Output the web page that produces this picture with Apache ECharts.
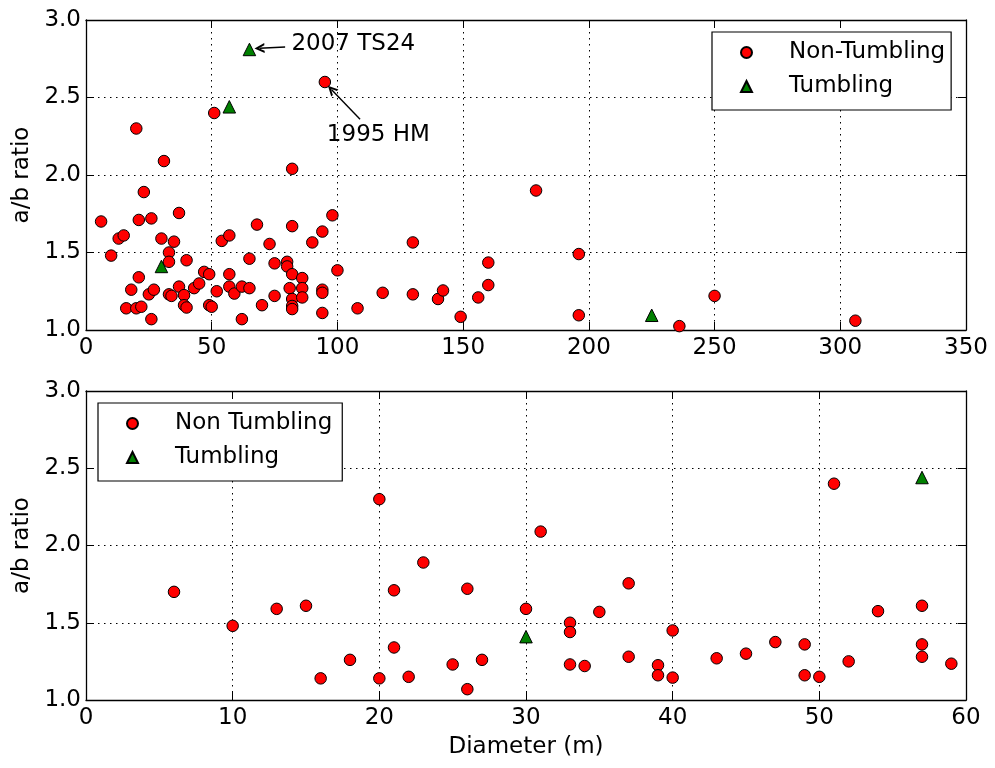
<!DOCTYPE html>
<html><head><meta charset="utf-8">
<script src="https://cdn.jsdelivr.net/npm/echarts@6/dist/echarts.min.js"></script>
<style>html,body{margin:0;padding:0;background:#fff}#c{width:995px;height:768px}</style>
</head><body><div id="c"></div>
<script>
// Non-tumbling, diameter < 60 m (shown in both panels)
const ntSmallD = [6,10,13,15,16,18,20,20,21,21,22,23,25,26,26,27,30,31,33,33,33,34,35,37,37,39,39,40,40,43,45,47,49,49,50,51,52,54,57,57,57,59];
const ntSmallR = [1.70,1.48,1.59,1.61,1.14,1.26,2.30,1.14,1.71,1.34,1.15,1.89,1.23,1.72,1.07,1.26,1.59,2.09,1.50,1.44,1.23,1.22,1.57,1.755,1.28,1.225,1.16,1.45,1.145,1.27,1.30,1.375,1.36,1.16,1.15,2.40,1.25,1.575,1.61,1.36,1.28,1.235];
// Non-tumbling, diameter >= 60 m (top panel only)
const ntLargeD = [62,62,65,65,68,70,73,75,75,80,80,81,82,82,82,82,82,82,86,86,86,90,94,94,94,94,95,98,100,108,118,130,130,140,142,149,156,160,160,179,196,196,236,250,306];
const ntLargeR = [1.07,1.28,1.27,1.46,1.68,1.16,1.555,1.43,1.22,1.44,1.41,1.27,2.04,1.67,1.36,1.20,1.155,1.135,1.335,1.27,1.21,1.565,1.635,1.26,1.24,1.11,2.60,1.74,1.385,1.14,1.24,1.565,1.23,1.20,1.255,1.085,1.21,1.435,1.29,1.90,1.49,1.095,1.025,1.22,1.06];
// Tumbling
const tumD = [30,57,65,225];
const tumR = [1.41,2.44,2.81,1.095];
// Annotations (data coordinates)
const annotText = ['2007 TS24','1995 HM'];
const annotTextPos = [[81.5,2.845],[95.6,2.257]];
const annotFrom = [[79.2,2.826],[109.0,2.36]];
const annotTo = [[69.0,2.818],[97.6,2.552]];

const FONT = 'DejaVu Sans';
const FS = 23;
const zip = (a,b) => a.map((v,i)=>[v,b[i]]);
const ntAll = zip(ntSmallD.concat(ntLargeD), ntSmallR.concat(ntLargeR));
const ntSmall = zip(ntSmallD, ntSmallR);
const tumAll = zip(tumD, tumR);
const tumSmall = tumAll.filter(p => p[0] <= 60);

const grids = [
  {left:86, top:20, width:880, height:310},
  {left:86, top:391, width:880, height:309}
];
const axisLine = {show:true, onZero:false, lineStyle:{color:'#000', width:1.3}};
const tick = {show:true, inside:true, length:8, lineStyle:{color:'#000', width:1}};
const labelStyle = {color:'#000', fontSize:FS, fontFamily:FONT};
const split = {show:true, lineStyle:{color:'#000', width:1, type:[1.5,4.5]}};

function xPair(gi, max, interval, name){
  return [
    {type:'value', gridIndex:gi, position:'bottom', min:0, max:max, interval:interval,
     axisLine:axisLine, axisTick:tick, splitLine:split,
     axisLabel:Object.assign({margin:7}, labelStyle),
     name:name||'', nameLocation:'middle', nameGap:36, nameTextStyle:labelStyle},
    {type:'value', gridIndex:gi, position:'top', min:0, max:max, interval:interval,
     axisLine:axisLine, axisTick:tick, splitLine:{show:false}, axisLabel:{show:false}}
  ];
}
function yPair(gi){
  return [
    {type:'value', gridIndex:gi, position:'left', min:1, max:3, interval:0.5,
     axisLine:axisLine, axisTick:tick, splitLine:split,
     axisLabel:Object.assign({margin:5, formatter:v=>v.toFixed(1)}, labelStyle),
     name:'a/b ratio', nameLocation:'middle', nameGap:50, nameTextStyle:labelStyle},
    {type:'value', gridIndex:gi, position:'right', min:1, max:3, interval:0.5,
     axisLine:axisLine, axisTick:tick, splitLine:{show:false}, axisLabel:{show:false}}
  ];
}

const circleStyle = {color:'#ff0000', borderColor:'#000', borderWidth:1, opacity:1};
const triStyle = {color:'#008000', borderColor:'#000', borderWidth:1, opacity:1};
const arrowHead = 'path://M5,0 L10,10 L7.8,10 L5,4.2 L2.2,10 L0,10 Z';

function legendCfg(left, top, names, padR){
  return {orient:'vertical', left:left, top:top, data:names, selectedMode:false,
    itemWidth:11, itemHeight:11, itemGap:9, padding:[8,padR,11,28],
    borderColor:'#000', borderWidth:1.2, backgroundColor:'#fff', borderRadius:0,
    textStyle:{fontSize:FS, fontFamily:FONT, color:'#000', lineHeight:25, padding:[0,0,0,32]}};
}

const option = {
  animation:false,
  backgroundColor:'#fff',
  textStyle:{fontFamily:FONT},
  grid:grids,
  xAxis:[].concat(xPair(0,350,50), xPair(1,60,10,'Diameter (m)')),
  yAxis:[].concat(yPair(0), yPair(1)),
  legend:[legendCfg(712,32,['Non-Tumbling','Tumbling'],6), legendCfg(98,403,['Non Tumbling','Tumbling'],10)],
  series:[
    {type:'scatter', name:'Non-Tumbling', xAxisIndex:0, yAxisIndex:0, data:ntAll,
     symbol:'circle', symbolSize:11.5, itemStyle:circleStyle},
    {type:'scatter', name:'Tumbling', xAxisIndex:0, yAxisIndex:0, data:tumAll,
     symbol:'triangle', symbolSize:12.5, itemStyle:triStyle,
     markLine:{silent:true, symbol:['none', arrowHead], symbolSize:[10,10],
       lineStyle:{color:'#000', width:1.4, type:'solid'}, label:{show:false},
       data: annotFrom.map((f,i)=>[{coord:f},{coord:annotTo[i]}])},
     markPoint:{silent:true, symbol:'circle', symbolSize:1, itemStyle:{color:'rgba(0,0,0,0)'},
       label:{show:true, position:'right', distance:0, color:'#000', fontSize:FS, fontFamily:FONT,
         formatter:p=>p.name},
       data: annotText.map((t,i)=>({name:t, coord:annotTextPos[i]}))}
    },
    {type:'scatter', name:'Non Tumbling', xAxisIndex:2, yAxisIndex:2, data:ntSmall,
     symbol:'circle', symbolSize:11.5, itemStyle:circleStyle},
    {type:'scatter', name:'Tumbling', xAxisIndex:2, yAxisIndex:2, data:tumSmall,
     symbol:'triangle', symbolSize:12.5, itemStyle:triStyle}
  ]
};
const chart = echarts.init(document.getElementById('c'), null, {renderer:'canvas'});
chart.setOption(option);
</script></body></html>
